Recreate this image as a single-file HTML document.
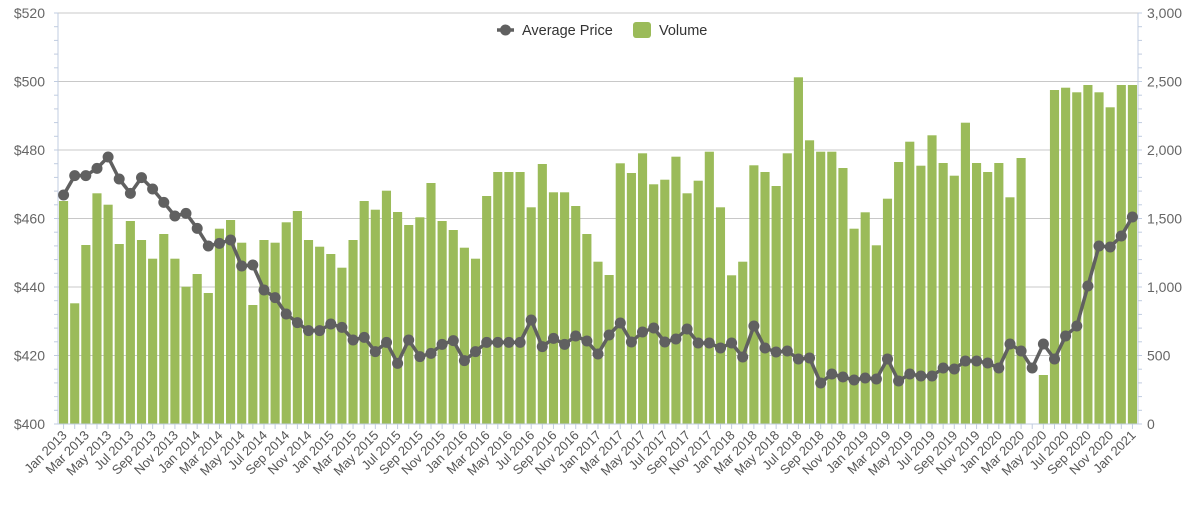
<!DOCTYPE html>
<html><head><meta charset="utf-8"><style>
html,body{margin:0;padding:0;background:#fff;width:1200px;height:505px;overflow:hidden}
svg{display:block}
text{font-family:"Liberation Sans",sans-serif}
</style></head><body>
<svg id="c" width="1200" height="505" xmlns="http://www.w3.org/2000/svg"></svg>
<script>
var x0=58,x1=1138,yt=13,yb=424,n=97,sw=(x1-x0)/n;
var z1=[603,910,735,580,614,732,663,720,776,702,776,860,822,879,686,660,728,915,720,728,667,633,720,740,762,803,720,603,629,572,636,675,652,549,663,690,743,776,588,516,516,516,622,492,577,577,618,702,785];
var z2=[825,490,519,460,553,539,470,580,542,455,622,826,785,496,516,558,460,232,421,455,455,504,686,637,736,596,486,425,497,406,489,527,368,489,516,489,592,474,1272,1125,270,263,277,255,277,322,255,255];
var bars=z1.concat(z2).map(function(v){return v/3;});
var pz=[585,527,527,505,471,537,580,533,567,607,648,640,685,738,730,720,798,795,870,893,942,968,992,992,972,982,1020,1012,1055,1027,1090,1020,1070,1060,1033,1022,1082,1055,1027,1027,1027,1027,960,1040,1015,1033,1008,1023];
var py=pz.map(function(v){return v/3;}).concat([354,335,323,342,332,328,342,339,329,343,343,348,343,357,326,348,352,351,359,358,383,374,377,380,378,379,359,381,374,376,376,368,369,361,361,363,368,344,351,368,344,359,336,326,286,246,247,236,217]);
var s='';
// grid
for(var i=0;i<=6;i++){var y=yt+(yb-yt)*i/6;s+='<line x1="'+x0+'" x2="'+x1+'" y1="'+y+'" y2="'+y+'" stroke="#c8c8c8" stroke-width="1"/>';
var p=520-20*i;s+='<text x="45" y="'+(y+5)+'" text-anchor="end" font-size="14" fill="#666">$'+p+'</text>';
var v=3000-500*i;s+='<text x="1147" y="'+(y+5)+'" font-size="14" fill="#666">'+(v>=1000?(Math.floor(v/1000)+','+String(v%1000).padStart(3,'0')):v)+'</text>';}
// minor ticks
for(var i=0;i<=30;i++){var y=yt+(yb-yt)*i/30;s+='<line x1="'+(x0-4)+'" x2="'+x0+'" y1="'+y+'" y2="'+y+'" stroke="#c0cce0"/><line x1="'+x1+'" x2="'+(x1+4)+'" y1="'+y+'" y2="'+y+'" stroke="#c0cce0"/>';}
s+='<line x1="'+x0+'" x2="'+x0+'" y1="'+yt+'" y2="'+yb+'" stroke="#c0cce0"/><line x1="'+x1+'" x2="'+x1+'" y1="'+yt+'" y2="'+yb+'" stroke="#c0cce0"/>';
// bars
for(var i=0;i<n;i++){var bx=x0+i*sw+1,h=yb-bars[i];if(h>0)s+='<rect x="'+bx.toFixed(2)+'" y="'+bars[i].toFixed(1)+'" width="'+(sw-2).toFixed(2)+'" height="'+h.toFixed(1)+'" fill="#9bbb59"/>';}
s+='<line x1="'+x0+'" x2="'+x1+'" y1="'+yb+'" y2="'+yb+'" stroke="#c0cce0"/>';
var mon=['Jan','Feb','Mar','Apr','May','Jun','Jul','Aug','Sep','Oct','Nov','Dec'];
for(var i=0;i<n;i++){var cx=x0+(i+0.5)*sw;s+='<line x1="'+cx+'" x2="'+cx+'" y1="'+yb+'" y2="'+(yb+5)+'" stroke="#c0cce0"/>';
if(i%2==0){var lab=mon[i%12]+' '+(2013+Math.floor(i/12));s+='<text transform="translate('+(cx+4)+','+(yb+12)+') rotate(-45)" text-anchor="end" font-size="13" fill="#555">'+lab+'</text>';}}
// line
var pts=py.map(function(y,i){return (x0+(i+0.5)*sw).toFixed(1)+','+y;}).join(' ');
s+='<polyline points="'+pts+'" fill="none" stroke="#606060" stroke-width="3.5" stroke-linejoin="round"/>';
py.forEach(function(y,i){s+='<circle cx="'+(x0+(i+0.5)*sw).toFixed(1)+'" cy="'+y+'" r="5.5" fill="#606060"/>';});
// legend
s+='<line x1="497" x2="514" y1="30" y2="30" stroke="#606060" stroke-width="3.5"/><circle cx="505.5" cy="30" r="5.5" fill="#606060"/>';
s+='<text x="522" y="35" font-size="14.5" fill="#333">Average Price</text>';
s+='<rect x="633" y="22" width="18" height="16" rx="3" fill="#9bbb59"/>';
s+='<text x="659" y="35" font-size="14.5" fill="#333">Volume</text>';
document.getElementById('c').innerHTML=s;
</script>
</body></html>
